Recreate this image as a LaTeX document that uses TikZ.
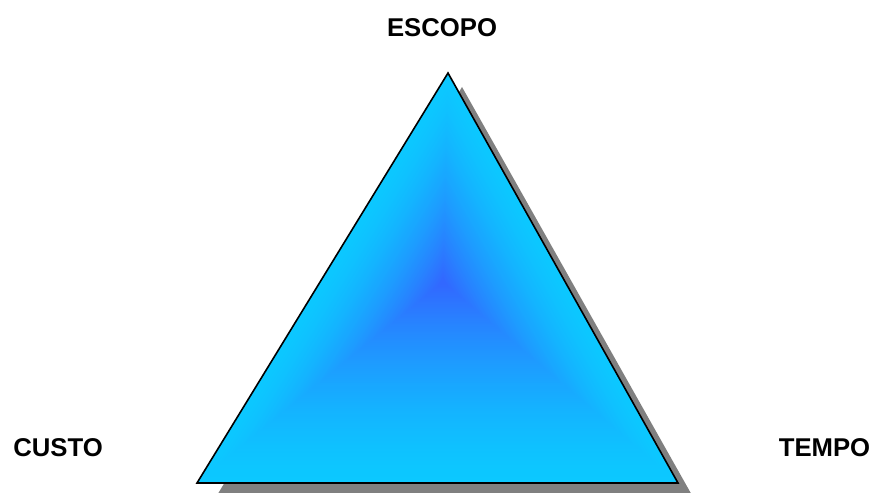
\documentclass[tikz,border=0pt]{standalone}
\usepackage{fontspec}
\setmainfont{Liberation Sans}
\usetikzlibrary{calc}
\definecolor{edgecyan}{RGB}{12,200,255}
\definecolor{coreblue}{RGB}{51,102,255}
\definecolor{shadowgray}{RGB}{128,128,128}
\begin{document}
\begin{tikzpicture}[x=1pt,y=-1pt,
  lbl/.style={font=\fontsize{25.7}{30}\selectfont\bfseries, inner sep=0pt, anchor=base},
  outline/.style={draw=black, line width=1.6pt, line join=miter}]
\useasboundingbox (0,0) rectangle (874,492);
\clip (0,0) rectangle (874,492);
\coordinate (A) at (448,73);
\coordinate (B) at (197,483);
\coordinate (D) at (678,483);
\coordinate (C) at (443,282);
\coordinate (SA) at (462,87);
\coordinate (SB) at (216,497);
\coordinate (SD) at (693,497);
% shadow
\fill[shadowgray] (SA) -- (SB) -- (SD) -- cycle;
% path gradient
\foreach \i in {0,...,99} {
  \pgfmathsetmacro{\s}{1-\i/100}
  \pgfmathsetmacro{\p}{100*(\i/100)^1.5}
  \fill[coreblue!\p!edgecyan] ($(C)!\s!(A)$) -- ($(C)!\s!(B)$) -- ($(C)!\s!(D)$) -- cycle;
}
\draw[outline] (A) -- (B) -- (D) -- cycle;
\node[lbl] (escopo) at (442,37) {ESCOPO};
\node[lbl] (custo) at (58,456) {CUSTO};
\node[lbl] (tempo) at (824.5,456) {TEMPO};
\end{tikzpicture}
\end{document}
